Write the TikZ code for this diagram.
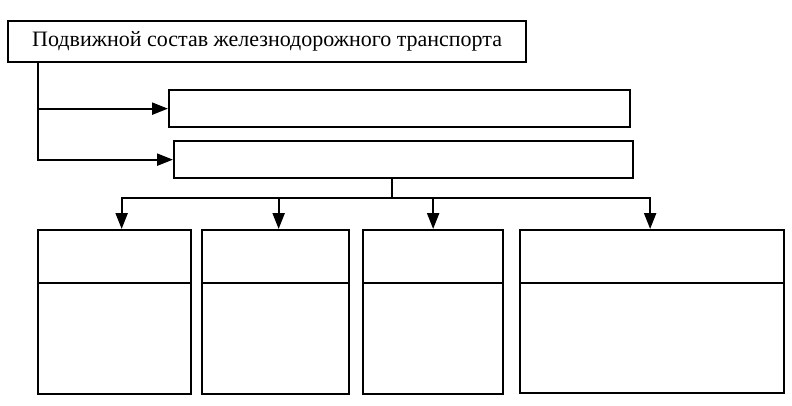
\documentclass[tikz,border=0pt]{standalone}
\usepackage{fontspec}
\setmainfont{Liberation Serif}
\usetikzlibrary{arrows.meta}
\tikzset{
  box/.style={draw, line width=2.3pt, rectangle, inner sep=0pt, anchor=north west},
  link/.style={line width=2.3pt},
  arr/.style={line width=2.3pt, -{Triangle[length=16pt,width=12pt]}}
}
\begin{document}
\begin{tikzpicture}[x=1pt,y=-1pt]
\useasboundingbox (0,0) rectangle (792,405);
\node[box, minimum width=518pt, minimum height=41pt, font=\fontsize{22}{26}\selectfont] (top) at (7,20) {Подвижной состав железнодорожного транспорта};
\node[box, minimum width=461pt, minimum height=37pt] (b1) at (168,89) {};
\node[box, minimum width=459pt, minimum height=37pt] (b2) at (173,140) {};
\node[box, minimum width=153pt, minimum height=164pt] (A) at (37,229) {};
\node[box, minimum width=147pt, minimum height=164pt] (B) at (201,229) {};
\node[box, minimum width=140pt, minimum height=164pt] (C) at (362,229) {};
\node[box, minimum width=264pt, minimum height=163pt] (D) at (519,229) {};
\foreach \n in {A,B,C,D}{
  \draw[link] ([yshift=-54pt]\n.north west) -- ([yshift=-54pt]\n.north east);
}
\coordinate (split) at ([xshift=31pt]top.south west);
\draw[arr] (split) |- (b1.west);
\draw[arr] (split) |- (b2.west);
\coordinate (hub) at (392,198);
\draw[link] (b2.south -| hub) -- (hub);
\draw[arr] (hub) -| ([xshift=7pt]A.north);
\draw[arr] (hub) -| ([xshift=3pt]B.north);
\draw[arr] (hub) -| (C.north);
\draw[arr] (hub) -| ([xshift=-2pt]D.north);
\end{tikzpicture}
\end{document}
